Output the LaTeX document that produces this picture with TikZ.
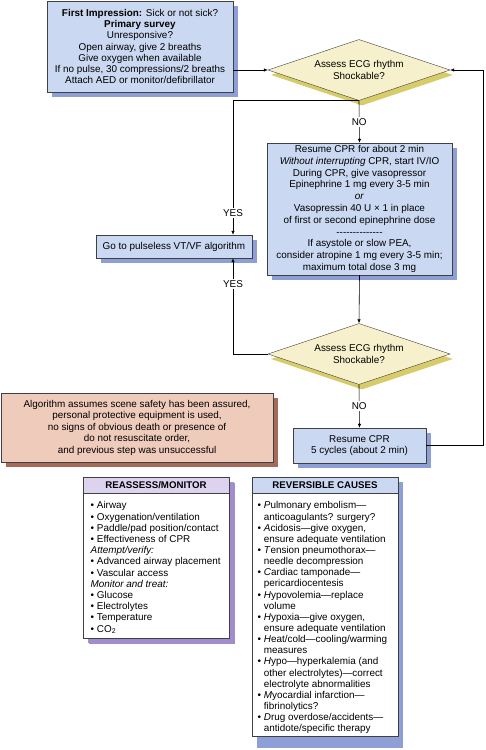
\documentclass[tikz,border=0pt]{standalone}
\usepackage{fontspec}
\setmainfont{Liberation Sans}
\usetikzlibrary{positioning,arrows.meta,shapes.geometric,shadows}
\definecolor{boxblue}{HTML}{CAD8F2}
\definecolor{blueshd}{HTML}{8E9FD8}
\definecolor{decfill}{HTML}{F6F1CC}
\definecolor{decshd}{HTML}{D8CB6A}
\definecolor{salmon}{HTML}{EFCBBB}
\definecolor{salshd}{HTML}{A66A5B}
\definecolor{lav}{HTML}{DDD3EE}
\definecolor{lavshd}{HTML}{A18DCB}
\newcommand{\itm}{\textbullet\ }
\newcommand{\ind}{\hphantom{\textbullet\ }}
\newcommand{\fs}[1]{\fontsize{9.9}{#1}\selectfont}

\begin{document}
\begin{tikzpicture}[x=1pt,y=-1pt,
  box/.style={draw=black!75,thin,fill=boxblue,align=center,inner sep=0pt,
    drop shadow={shadow xshift=5pt,shadow yshift=-5pt,fill=blueshd,opacity=1}},
  dec/.style={diamond,aspect=3,draw=black!75,thin,fill=decfill,align=center,inner sep=0pt,
    minimum width=182pt,minimum height=61pt,font=\fs{11.5},
    drop shadow={shadow xshift=3pt,shadow yshift=-5pt,fill=decshd,opacity=1}},
  arr/.style={-{Latex[length=4pt,width=3.5pt]},semithick},
  lbl/.style={fill=white,inner sep=1.5pt,font=\fs{11}},
  head/.style={draw=black!75,thin,minimum width=146pt,minimum height=16pt,inner sep=0pt,
    font=\fontsize{9.7}{11}\selectfont\bfseries},
  list/.style={align=left,inner sep=0pt,anchor=north west}
]
\useasboundingbox (0,0) rectangle (485,750);

\node[box,minimum width=186pt,minimum height=91pt,font=\fs{11.2}]
  (impress) at (140,46.5) {\textbf{First Impression:} Sick or not sick?\\
  \textbf{Primary survey}\\ Unresponsive?\\ Open airway, give 2 breaths\\
  Give oxygen when available\\ If no pulse, 30 compressions/2 breaths\\
  Attach AED or monitor/defibrillator};

\node[dec] (ecg1) at (359,70) {Assess ECG rhythm\\ Shockable?};

\node[box,minimum width=185pt,minimum height=132pt,font=\fs{11.8}]
  (cpr1) at (359.5,209) {Resume CPR for about 2 min\\
  \textit{Without interrupting} CPR, start IV/IO\\ During CPR, give vasopressor\\
  Epinephrine 1 mg every 3-5 min\\ \textit{or}\\ Vasopressin 40 U × 1 in place\\
  of first or second epinephrine dose\\ -{}-{}-{}-{}-{}-{}-{}-{}-{}-{}-{}-{}-{}-\\
  If asystole or slow PEA,\\ consider atropine 1 mg every 3-5 min;\\
  maximum total dose 3 mg};

\node[box,minimum width=156pt,minimum height=23pt,font=\fs{11}]
  (pulseless) at (174,246.5) {Go to pulseless VT/VF algorithm};

\node[dec] (ecg2) at (359,354) {Assess ECG rhythm\\ Shockable?};

\node[box,minimum width=133pt,minimum height=35pt,font=\fs{11.5}]
  (cpr2) at (359.5,445.5) {Resume CPR\\ 5 cycles (about 2 min)};

% scene note
\node[box,fill=salmon,drop shadow={shadow xshift=5pt,shadow yshift=-5pt,fill=salshd,opacity=1},
  minimum width=272pt,minimum height=69pt,font=\fs{11.5}]
  (note) at (137,427.5) {Algorithm assumes scene safety has been assured,\\
  personal protective equipment is used,\\ no signs of obvious death or presence of\\
  do not resuscitate order,\\ and previous step was unsuccessful};

% reassess/monitor
\node[box,fill=white,drop shadow={shadow xshift=6pt,shadow yshift=-6pt,fill=lavshd,opacity=1},
  minimum width=146pt,minimum height=161pt] (monframe) at (156,557.5) {};
\node[head,fill=lav,anchor=north] (monhead) at (monframe.north) {REASSESS/MONITOR};
\node[list,font=\fs{11.2}] (monlist) at (90.5,501.5)
  {\itm Airway\\ \itm Oxygenation/ventilation\\ \itm Paddle/pad position/contact\\
  \itm Effectiveness of CPR\\ \textit{Attempt/verify:}\\ \itm Advanced airway placement\\
  \itm Vascular access\\ \textit{Monitor and treat:}\\ \itm Glucose\\ \itm Electrolytes\\
  \itm Temperature\\ \itm CO\textsubscript{2}};

% reversible causes
\node[box,fill=white,drop shadow={shadow xshift=5pt,shadow yshift=-12pt,fill=blueshd,opacity=1},
  minimum width=146pt,minimum height=259pt] (revframe) at (325,606.5) {};
\node[head,fill=boxblue,anchor=north] (revhead) at (revframe.north) {REVERSIBLE CAUSES};
\node[list,font=\fs{11.15}] (revlist) at (257.5,501.5)
  {\itm \textit{P}ulmonary embolism---\\ \ind anticoagulants? surgery?\\
  \itm \textit{A}cidosis---give oxygen,\\ \ind ensure adequate ventilation\\
  \itm \textit{T}ension pneumothorax---\\ \ind needle decompression\\
  \itm \textit{C}ardiac tamponade---\\ \ind pericardiocentesis\\
  \itm \textit{H}ypovolemia---replace\\ \ind volume\\
  \itm \textit{H}ypoxia---give oxygen,\\ \ind ensure adequate ventilation\\
  \itm \textit{H}eat/cold---cooling/warming\\ \ind measures\\
  \itm \textit{H}ypo---hyperkalemia (and\\ \ind other electrolytes)---correct\\
  \ind electrolyte abnormalities\\
  \itm \textit{M}yocardial infarction---\\ \ind fibrinolytics?\\
  \itm \textit{D}rug overdose/accidents---\\ \ind antidote/specific therapy};

% connectors
\coordinate (lx) at (233,0);
\coordinate (rx) at (483,0);
\draw[arr] (ecg1.west -| impress.east) -- (ecg1.west);
\draw[arr] (ecg1.south) -- node[lbl]{NO} (cpr1.north);
\draw[arr] (ecg1.south) -| node[lbl,pos=0.92]{YES} (lx |- pulseless.north);
\draw[arr] (cpr1.south) -- (ecg2.north);
\draw[arr] (ecg2.west) -| node[lbl,pos=0.865]{YES} (lx |- pulseless.south);
\draw[arr] (ecg2.south) -- node[lbl]{NO} (cpr2.north);
\draw[arr] (cpr2.east) -- (cpr2.east -| rx) |- (ecg1.east);
\end{tikzpicture}
\end{document}
